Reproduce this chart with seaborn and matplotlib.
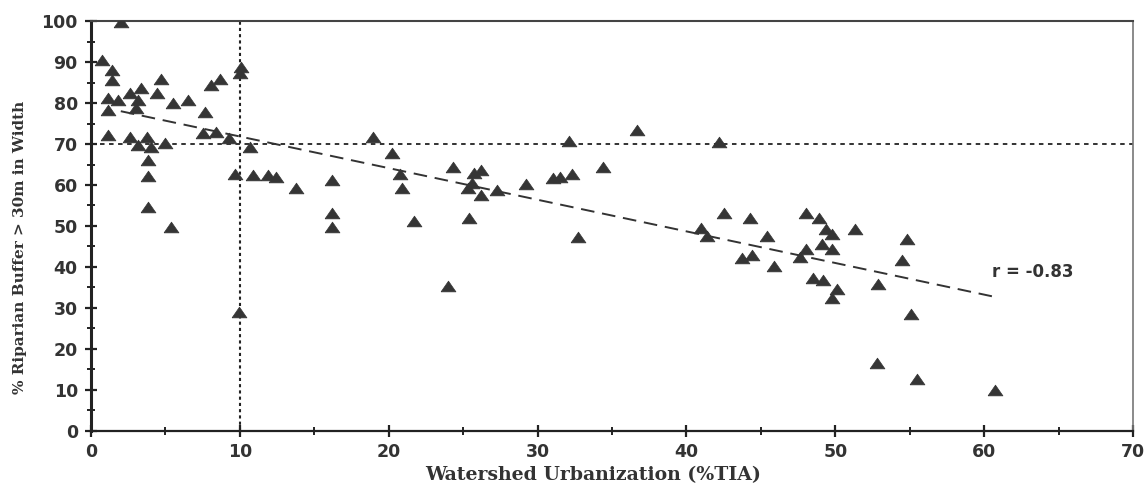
import matplotlib
matplotlib.use("Agg")
import matplotlib.pyplot as plt
from matplotlib.ticker import MultipleLocator
import seaborn as sns
import pandas as pd

# Data
tia = [2.0, 0.74, 1.41, 1.41, 4.72, 4.43, 8.08, 8.69, 10.1, 10.0,
       1.14, 1.14, 1.81, 2.6, 3.38, 3.16, 3.04, 5.5, 6.5, 7.64,
       1.14, 2.6, 3.16, 3.78, 4.05, 5.0, 7.52, 8.42, 9.3, 10.7,
       3.83, 3.83, 9.7, 10.9, 11.9, 12.4, 13.8, 16.2, 16.2, 16.2,
       3.85, 5.35, 9.97,
       18.97, 20.2, 20.76, 20.87, 21.7, 24.3, 23.96, 25.4, 25.7, 26.2,
       25.6, 25.3, 26.2, 27.25, 29.2, 31.05, 31.5, 32.1, 32.3, 32.7,
       34.4, 36.65, 42.2, 42.5, 40.98, 41.4,
       44.3, 45.4, 43.75, 44.4, 45.9, 48.0, 48.9, 49.4, 49.8, 51.3,
       49.1, 49.8, 48.0, 47.6, 48.5, 49.2, 50.1, 49.8, 54.8, 54.5,
       52.9, 55.1, 52.8, 55.5, 60.7]
buffer = [99.8, 90.5, 88.0, 85.6, 85.8, 82.5, 84.4, 85.8, 88.9, 87.2,
          81.1, 78.3, 80.7, 82.4, 83.6, 80.7, 78.7, 80.1, 80.7, 77.9,
          72.2, 71.6, 69.8, 71.6, 69.3, 70.3, 72.8, 73.0, 71.4, 69.3,
          66.1, 62.2, 62.6, 62.4, 62.4, 62.0, 59.3, 61.2, 53.2, 49.8,
          54.7, 49.7, 29.1,
          71.8, 67.9, 62.6, 59.3, 51.2, 64.3, 35.4, 51.9, 63.0, 63.7,
          60.4, 59.2, 57.6, 58.8, 60.2, 61.8, 61.9, 70.8, 62.6, 47.4,
          64.5, 73.4, 70.6, 53.1, 49.6, 47.6,
          51.9, 47.6, 42.1, 42.9, 40.3, 53.1, 52.0, 49.3, 48.0, 49.3,
          45.5, 44.3, 44.3, 42.4, 37.2, 36.8, 34.6, 32.4, 46.8, 41.7,
          35.8, 28.5, 16.5, 12.6, 10.0]
fit_x = [2.0, 60.6]
fit_y = [78.0, 32.8]
x_ticks = [0, 10, 20, 30, 40, 50, 60, 70]
y_ticks = [0, 10, 20, 30, 40, 50, 60, 70, 80, 90, 100]
thresh_x = 10
thresh_y = 70
r_label = "r = -0.83"
x_label = "Watershed Urbanization (%TIA)"
y_label = "% Riparian Buffer > 30m in Width"

df = pd.DataFrame({"tia": tia, "buffer": buffer})
fit = pd.DataFrame({"x": fit_x, "y": fit_y})

sns.set_theme(style="white")
plt.rcParams["font.family"] = ["DejaVu Sans"]

fig = plt.figure(figsize=(11.45, 4.83), dpi=100)
ax = fig.add_axes([0.0795, 0.1077, 0.9100, 0.8488])

# threshold lines
ax.axhline(thresh_y, color="#222222", lw=1.3, ls=(0, (2.5, 2.5)), zorder=1)
ax.axvline(thresh_x, color="#222222", lw=1.5, ls=(0, (1.5, 1.5)), zorder=1)

sns.lineplot(data=fit, x="x", y="y", ax=ax, color="#333333", lw=1.4,
             linestyle=(0, (7, 4)), zorder=2)

flat_tri = [(-1.0, -0.72), (1.0, -0.72), (0.0, 0.72), (-1.0, -0.72)]
sns.scatterplot(data=df, x="tia", y="buffer", ax=ax, marker=flat_tri,
                s=115, color="#353535", edgecolor="#353535", linewidth=0.5,
                zorder=3)

ax.text(60.5, 38.8, r_label, fontsize=12, fontweight="bold",
        family="DejaVu Sans", color="#333333", va="center", ha="left")

ax.set_xlim(0, 70)
ax.set_ylim(0, 100)
ax.set_xticks(x_ticks)
ax.set_yticks(y_ticks)
ax.xaxis.set_minor_locator(MultipleLocator(5))
ax.yaxis.set_minor_locator(MultipleLocator(5))
ax.tick_params(axis="both", which="major", direction="inout", length=9,
               width=1.6, color="#222222", labelsize=12.5, labelcolor="#333333")
ax.tick_params(axis="both", which="minor", direction="inout", length=6,
               width=1.4, color="#222222")
ax.tick_params(axis="x", pad=4)
ax.tick_params(axis="y", pad=5)
ax.tick_params(axis="both", which="both", bottom=True, left=True)
for lab in ax.get_xticklabels() + ax.get_yticklabels():
    lab.set_fontweight("bold")

ax.set_xlabel(x_label, fontsize=13.6, fontweight="bold",
              family="DejaVu Serif", color="#333333")
ax.set_ylabel(y_label, fontsize=11, fontweight="bold",
              family="DejaVu Serif", color="#333333")
ax.xaxis.set_label_coords(0.482, -0.085)
ax.yaxis.set_label_coords(-0.061, 0.449)

ax.spines["left"].set_linewidth(2.2)
ax.spines["left"].set_color("#222222")
ax.spines["bottom"].set_linewidth(1.6)
ax.spines["bottom"].set_color("#222222")
ax.spines["top"].set_linestyle((0, (1, 1)))
ax.spines["top"].set_linewidth(1.5)
ax.spines["top"].set_color("#444444")
ax.spines["right"].set_linewidth(1.2)
ax.spines["right"].set_color("#777777")

fig.savefig("out.png", dpi=100)
